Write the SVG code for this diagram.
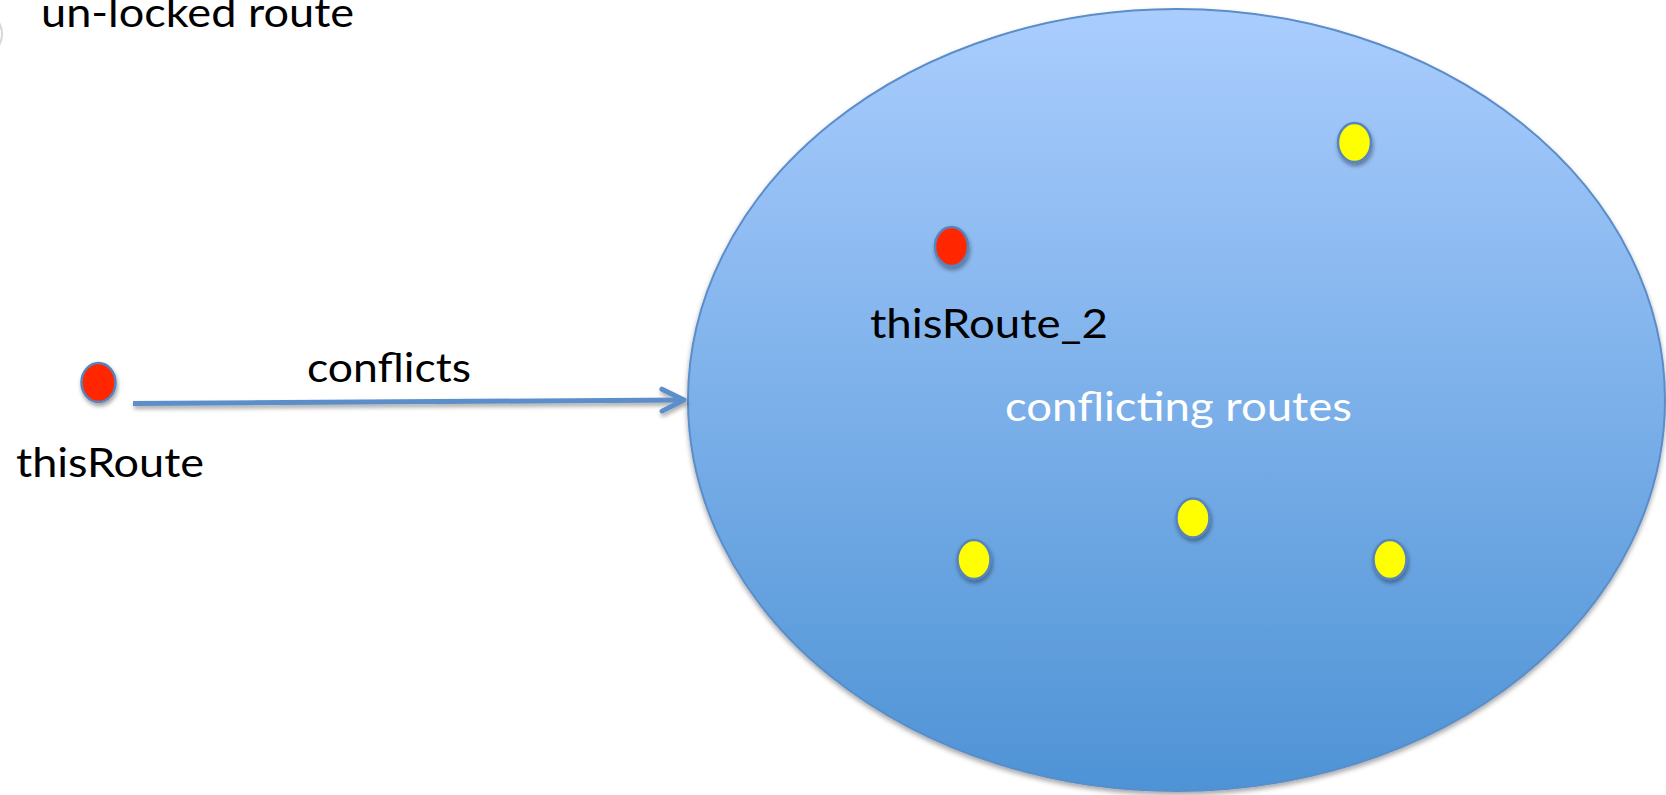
<svg xmlns="http://www.w3.org/2000/svg" width="1666" height="795" viewBox="0 0 1666 795">
  <defs>
    <linearGradient id="setFill" x1="0" y1="0" x2="0" y2="1">
      <stop offset="0" stop-color="#aacdfe"/>
      <stop offset="1" stop-color="#4e93d5"/>
    </linearGradient>
    <filter id="shadow" x="-30%" y="-30%" width="160%" height="170%">
      <feDropShadow dx="1" dy="3" stdDeviation="2" flood-color="#000" flood-opacity="0.38"/>
    </filter>
    <filter id="lineShadow" filterUnits="userSpaceOnUse" x="0" y="0" width="1666" height="795">
      <feDropShadow dx="1" dy="3" stdDeviation="2" flood-color="#000" flood-opacity="0.35"/>
    </filter>
    <filter id="bigShadow" x="-5%" y="-5%" width="110%" height="112%">
      <feDropShadow dx="0" dy="3" stdDeviation="2.5" flood-color="#000" flood-opacity="0.35"/>
    </filter>
    <marker id="openArrow" markerUnits="userSpaceOnUse" markerWidth="40" markerHeight="40" refX="30" refY="20" orient="auto">
      <path d="M8,9 L30,20 L8,31" fill="none" stroke="#5b8fc9" stroke-width="5" stroke-linecap="round" stroke-linejoin="round"/>
    </marker>
  </defs>
  <style>
    text { font-family: Lato, "Open Sans", "Liberation Sans", sans-serif; font-size: 40px; }
    .dark { fill: #000; }
    .light { fill: #fff; }
    .dot { stroke: #5584bf; stroke-width: 2.5; filter: url(#shadow); }
    .red { fill: #ff2600; }
    .yellow { fill: #ffff00; }
  </style>

  <rect width="1666" height="795" fill="#fff"/>

  <!-- edge of a marker cut off by the left border -->
  <g id="offscreen-dot">
    <ellipse cx="-16" cy="34" rx="18" ry="20.5" fill="none" stroke="#d6d6d6" stroke-width="2"/>
  </g>

  <g id="legend">
    <text class="dark" x="41" y="27" textLength="313" lengthAdjust="spacingAndGlyphs">un-locked route</text>
  </g>

  <!-- set of conflicting routes -->
  <g id="conflicting-set">
    <ellipse cx="1176.5" cy="400" rx="488.5" ry="391" fill="url(#setFill)" stroke="#5a8dca" stroke-width="2" filter="url(#bigShadow)"/>
    <text class="light" x="1005" y="421" textLength="347" lengthAdjust="spacingAndGlyphs">conflicting routes</text>
  </g>

  <g id="this-route">
    <ellipse class="dot red" cx="98.5" cy="382.5" rx="17" ry="19.5"/>
    <text class="dark" x="16" y="477" textLength="188" lengthAdjust="spacingAndGlyphs">thisRoute</text>
  </g>

  <g id="this-route-2">
    <ellipse class="dot red" cx="951.5" cy="246.5" rx="16.5" ry="19.5"/>
    <text class="dark" x="870" y="338" textLength="238" lengthAdjust="spacingAndGlyphs">thisRoute_2</text>
  </g>

  <g id="route-a">
    <ellipse class="dot yellow" cx="1354.5" cy="142.5" rx="16.5" ry="19.5"/>
  </g>
  <g id="route-b">
    <ellipse class="dot yellow" cx="974" cy="559.5" rx="16.5" ry="19.5"/>
  </g>
  <g id="route-c">
    <ellipse class="dot yellow" cx="1193" cy="518" rx="16.5" ry="19.5"/>
  </g>
  <g id="route-d">
    <ellipse class="dot yellow" cx="1390" cy="559.5" rx="16.5" ry="19.5"/>
  </g>

  <g id="connectors">
    <line x1="133" y1="403.5" x2="684" y2="400" stroke="#5b8fc9" stroke-width="5" marker-end="url(#openArrow)" filter="url(#lineShadow)"/>
    <text class="dark" x="307" y="382" textLength="164" lengthAdjust="spacingAndGlyphs">conflicts</text>
  </g>
</svg>
